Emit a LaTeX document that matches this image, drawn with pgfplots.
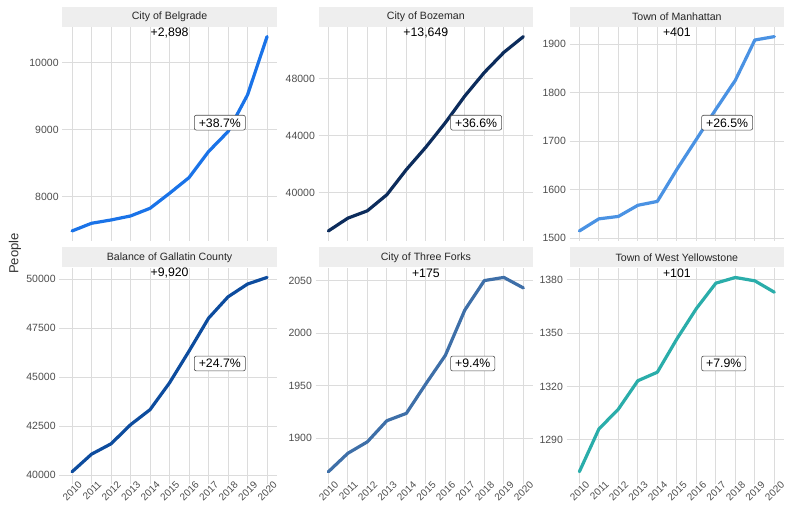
\documentclass[border=0pt]{standalone}
\usepackage{pgfplots}
\pgfplotsset{compat=1.18}
\usepackage{fontspec}
\setmainfont{Liberation Sans}
\definecolor{stripgray}{HTML}{EEEEEE}
\definecolor{gridgray}{HTML}{DCDCDC}
\definecolor{ticktext}{HTML}{4D4D4D}
\definecolor{cBel}{HTML}{1A73E8}
\definecolor{cBoz}{HTML}{0C2C5C}
\definecolor{cMan}{HTML}{4A92E3}
\definecolor{cBal}{HTML}{0D4C9E}
\definecolor{cThr}{HTML}{3E6FA8}
\definecolor{cWY}{HTML}{2AADAA}
\pgfplotsset{
  panel/.style={
    scale only axis, width=214.5pt, height=213.8pt,
    xmin=2009.5, xmax=2020.5,
    xtick={2010,2011,2012,2013,2014,2015,2016,2017,2018,2019,2020},
    grid=major,
    major grid style={draw=gridgray, line width=0.9pt},
    axis line style={draw=none},
    tick align=outside, major tick length=3pt,
    major tick style={draw=gridgray, line width=0.9pt},
    xtick pos=bottom, ytick pos=left,
    clip=false,
    /pgf/number format/assume math mode=true,
    /pgf/number format/set thousands separator={},
    /pgf/number format/fixed,
    scaled y ticks=false,
    yticklabel style={font=\fontsize{10.5}{12}\selectfont, text=ticktext, inner sep=0pt, xshift=-3.5pt},
    every axis title shift=0pt,
    title style={at={(0.5,1)}, anchor=south, fill=stripgray, minimum width=214.5pt,
      minimum height=20pt, inner sep=0pt, font=\fontsize{10.6}{12}\selectfont, text=black!85},
  },
  toprow/.style={xticklabels={}, major tick length=0pt},
  botrow/.style={
    xticklabel style={rotate=45, anchor=north east, inner sep=0pt,
      font=\fontsize{10}{12}\selectfont, text=ticktext, xshift=7pt, yshift=-1pt},
    xticklabel={\pgfmathprintnumber[1000 sep={}]{\tick}},
  },
  dline/.style={line width=3.2pt, line join=round, line cap=round},
}
\newcommand{\toplab}[1]{\node[font=\fontsize{12.3}{14}\selectfont, inner sep=0pt] at (rel axis cs:0.5,0.973) {#1};}
\newcommand{\boxlab}[1]{\node[draw=black!70, line width=0.6pt, rounded corners=2pt, fill=white, anchor=west,
  font=\fontsize{12.3}{14}\selectfont, inner xsep=4.5pt, inner ysep=3pt, text height=8.8pt, text depth=0pt]
  at (rel axis cs:0.614,0.552) {#1};}
\begin{document}
\begin{tikzpicture}
\useasboundingbox (0,0) rectangle (790pt,506pt);
% Row 1
\begin{axis}[panel, toprow, at={(62.3pt,265.3pt)}, anchor=south west,
  title={City of Belgrade}, ymin=7343.1, ymax=10530.9, ytick={8000,9000,10000}]
\addplot[cBel, dline] coordinates {(2010,7488) (2011,7603) (2012,7652) (2013,7712) (2014,7826) (2015,8050) (2016,8284) (2017,8672) (2018,8970) (2019,9518) (2020,10386)};
\toplab{+2,898}
\boxlab{+38.7\%}
\end{axis}
\begin{axis}[panel, toprow, at={(318.6pt,265.3pt)}, anchor=south west,
  title={City of Bozeman}, ymin=36609.5, ymax=51623.5, ytick={40000,44000,48000}]
\addplot[cBoz, dline] coordinates {(2010,37292) (2011,38193) (2012,38708) (2013,39838) (2014,41602) (2015,43176) (2016,44896) (2017,46772) (2018,48424) (2019,49835) (2020,50941)};
\toplab{+13,649}
\boxlab{+36.6\%}
\end{axis}
\begin{axis}[panel, toprow, at={(569.6pt,265.3pt)}, anchor=south west,
  title={Town of Manhattan}, ymin=1494.95, ymax=1936.05, ytick={1500,1600,1700,1800,1900}]
\addplot[cMan, dline] coordinates {(2010,1515) (2011,1540) (2012,1545) (2013,1568) (2014,1576) (2015,1642) (2016,1704) (2017,1766) (2018,1826) (2019,1909) (2020,1916)};
\toplab{+401}
\boxlab{+26.5\%}
\end{axis}
% Row 2
\begin{axis}[panel, botrow, at={(62.3pt,24.5pt)}, anchor=south west,
  title={Balance of Gallatin County}, ymin=39666, ymax=50578, ytick={40000,42500,45000,47500,50000}]
\addplot[cBal, dline] coordinates {(2010,40162) (2011,41061) (2012,41590) (2013,42564) (2014,43333) (2015,44703) (2016,46323) (2017,48000) (2018,49092) (2019,49743) (2020,50082)};
\toplab{+9,920}
\boxlab{+24.7\%}
\end{axis}
\begin{axis}[panel, botrow, at={(318.6pt,24.5pt)}, anchor=south west,
  title={City of Three Forks}, ymin=1858.75, ymax=2062.25, ytick={1900,1950,2000,2050}]
\addplot[cThr, dline] coordinates {(2010,1868) (2011,1885.6) (2012,1896.5) (2013,1916.6) (2014,1923.6) (2015,1951.7) (2016,1978.8) (2017,2022) (2018,2050) (2019,2053) (2020,2043)};
\toplab{+175}
\boxlab{+9.4\%}
\end{axis}
\begin{axis}[panel, botrow, at={(569.6pt,24.5pt)}, anchor=south west,
  title={Town of West Yellowstone}, ymin=1266.5, ymax=1386.8, ytick={1290,1320,1350,1380}]
\addplot[cWY, dline] coordinates {(2010,1272) (2011,1296) (2012,1307.2) (2013,1323.2) (2014,1328) (2015,1346.7) (2016,1363.8) (2017,1378.1) (2018,1381.3) (2019,1379.4) (2020,1373)};
\toplab{+101}
\boxlab{+7.9\%}
\end{axis}
\node[rotate=90, font=\fontsize{13.1}{15}\selectfont, text=black!80] at (15pt,252.5pt) {People};
\end{tikzpicture}
\end{document}
